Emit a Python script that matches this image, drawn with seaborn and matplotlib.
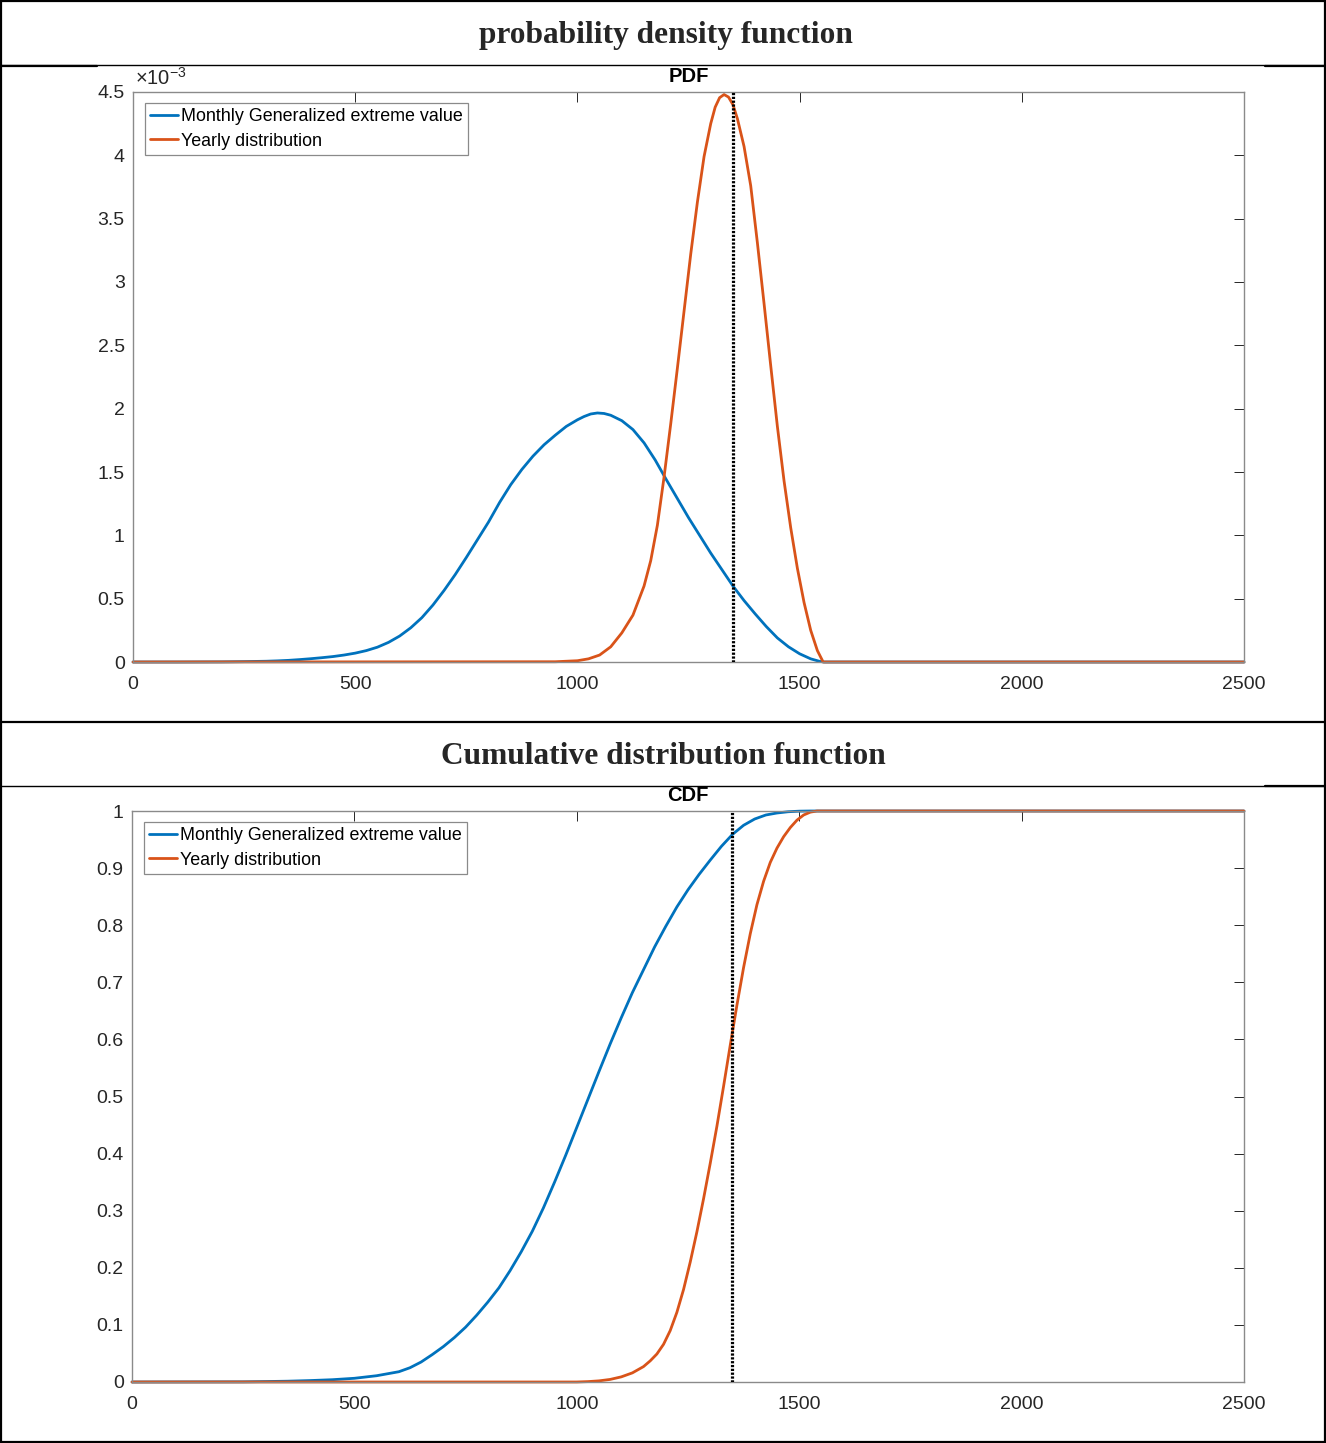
import numpy as np
import pandas as pd
import matplotlib
matplotlib.use("Agg")
import matplotlib.pyplot as plt
from matplotlib.lines import Line2D
import seaborn as sns

# ---------------- data ----------------
# PDF values are in units of 1e-3 (the axis multiplier shown on the chart)
pdf_blue_x = [0, 100, 200, 250, 300, 325, 350, 375, 400, 425, 450, 475, 500, 525, 550, 575,
              600, 625, 650, 675, 700, 725, 750, 775, 800, 825, 850, 875, 900, 925, 950,
              975, 1000, 1015, 1030, 1045, 1060, 1075, 1100, 1125, 1150, 1175, 1200, 1225,
              1250, 1275, 1300, 1325, 1350, 1375, 1400, 1425, 1450, 1475, 1500, 1525, 1545,
              1555, 2500]
pdf_blue = [0, 0, 0.001, 0.003, 0.006, 0.009, 0.013, 0.019, 0.026, 0.034, 0.043, 0.055,
            0.070, 0.090, 0.117, 0.155, 0.205, 0.270, 0.350, 0.450, 0.565, 0.690, 0.825,
            0.965, 1.105, 1.260, 1.400, 1.520, 1.625, 1.715, 1.790, 1.860, 1.912, 1.938,
            1.958, 1.966, 1.962, 1.948, 1.905, 1.835, 1.730, 1.595, 1.440, 1.290, 1.140,
            1.000, 0.860, 0.730, 0.600, 0.485, 0.380, 0.280, 0.190, 0.120, 0.065, 0.025,
            0.005, 0.0, 0.0]

pdf_orange_x = [0, 950, 1000, 1025, 1050, 1075, 1100, 1125, 1150, 1165, 1180, 1195, 1210,
                1225, 1240, 1255, 1270, 1285, 1300, 1310, 1320, 1330, 1340, 1350, 1360,
                1375, 1390, 1405, 1420, 1435, 1450, 1465, 1480, 1495, 1510, 1525, 1540,
                1553, 2500]
pdf_orange = [0, 0.002, 0.010, 0.025, 0.055, 0.120, 0.230, 0.370, 0.600, 0.800, 1.080,
              1.460, 1.880, 2.320, 2.770, 3.220, 3.630, 3.990, 4.250, 4.380, 4.455, 4.480,
              4.460, 4.400, 4.290, 4.070, 3.760, 3.310, 2.830, 2.340, 1.860, 1.430, 1.060,
              0.740, 0.470, 0.250, 0.090, 0.0, 0.0]

cdf_blue_x = [0, 250, 300, 350, 400, 450, 500, 550, 600, 625, 650, 675, 700, 725, 750, 775,
              800, 825, 850, 875, 900, 925, 950, 975, 1000, 1025, 1050, 1075, 1100, 1125,
              1150, 1175, 1200, 1225, 1250, 1275, 1300, 1325, 1350, 1375, 1400, 1425, 1450,
              1475, 1500, 1525, 2500]
cdf_blue = [0, 0.0003, 0.0008, 0.0014, 0.0025, 0.004, 0.0065, 0.011, 0.018, 0.025, 0.035,
            0.048, 0.062, 0.078, 0.096, 0.117, 0.140, 0.165, 0.195, 0.228, 0.264, 0.305,
            0.350, 0.397, 0.446, 0.495, 0.544, 0.592, 0.638, 0.682, 0.722, 0.762, 0.798,
            0.832, 0.862, 0.889, 0.914, 0.938, 0.959, 0.975, 0.986, 0.993, 0.9965, 0.9987,
            0.9997, 1.0, 1.0]

cdf_orange_x = [0, 1000, 1025, 1050, 1075, 1100, 1125, 1150, 1165, 1180, 1195, 1210, 1225,
                1240, 1255, 1270, 1285, 1300, 1315, 1330, 1345, 1360, 1375, 1390, 1405,
                1420, 1435, 1450, 1465, 1480, 1495, 1510, 1525, 1540, 2500]
cdf_orange = [0, 0.0, 0.0007, 0.002, 0.0045, 0.009, 0.016, 0.027, 0.037, 0.049, 0.066,
              0.090, 0.122, 0.162, 0.210, 0.263, 0.321, 0.383, 0.448, 0.518, 0.590, 0.660,
              0.726, 0.785, 0.836, 0.877, 0.910, 0.935, 0.955, 0.971, 0.984, 0.993, 0.998,
              1.0, 1.0]

threshold_x = 1350

series_labels = ["Monthly Generalized extreme value", "Yearly distribution"]
x_ticks = [0, 500, 1000, 1500, 2000, 2500]
pdf_y_ticks = [0, 0.5, 1, 1.5, 2, 2.5, 3, 3.5, 4, 4.5]
cdf_y_ticks = [0, 0.1, 0.2, 0.3, 0.4, 0.5, 0.6, 0.7, 0.8, 0.9, 1]

header_titles = ["probability density function", "Cumulative distribution function"]
panel_titles = ["PDF", "CDF"]

# ---------------- style ----------------
sns.set_theme(style="white")
plt.rcParams['font.family'] = ['Liberation Sans', 'DejaVu Sans']
plt.rcParams['mathtext.fontset'] = 'custom'
plt.rcParams['mathtext.rm'] = 'Liberation Sans'
plt.rcParams['mathtext.it'] = 'Liberation Sans:italic'

BLUE = '#0072BD'
ORANGE = '#D95319'
AXC = '#262626'
BOXC = '#8a8a8a'

W, H = 1326, 1443
fig = plt.figure(figsize=(W / 100, H / 100), dpi=100)


def px_rect(l, t, r, b):
    return [l / W, 1 - b / H, (r - l) / W, (b - t) / H]


ax1 = fig.add_axes(px_rect(133, 92, 1244, 662))
ax2 = fig.add_axes(px_rect(132, 811, 1244, 1382))


def style_axes(ax, yticks, ylim, title):
    ax.set_xlim(0, 2500)
    ax.set_ylim(*ylim)
    ax.set_xticks(x_ticks)
    ax.set_yticks(yticks)
    ax.set_xticklabels([f"{v:g}" for v in x_ticks])
    ax.set_yticklabels([f"{v:g}" for v in yticks])
    ax.tick_params(direction='in', length=7.5, width=0.7, color=AXC,
                   top=True, right=True, labelsize=14, labelcolor=AXC, pad=6)
    ax.tick_params(axis='x', pad=10)
    for s in ax.spines.values():
        s.set_color(BOXC)
        s.set_linewidth(1.0)
    ax.set_xlabel('')
    ax.set_ylabel('')
    ax.set_title(title, fontsize=14.5, fontweight='bold', color='black', pad=7)
    ax.grid(False)


def draw_panel(ax, bx, by, ox, oy):
    df_b = pd.DataFrame({'x': bx, 'y': by})
    df_o = pd.DataFrame({'x': ox, 'y': oy})
    sns.lineplot(data=df_b, x='x', y='y', ax=ax, color=BLUE, lw=2.0,
                 label=series_labels[0], sort=False, estimator=None)
    sns.lineplot(data=df_o, x='x', y='y', ax=ax, color=ORANGE, lw=2.0,
                 label=series_labels[1], sort=False, estimator=None)
    for ln in ax.get_lines():
        ln.set_clip_on(False)
        ln.set_solid_joinstyle('round')
    ax.axvline(threshold_x, color='black', lw=2.3, linestyle=(0, (0.7, 0.5)), zorder=5)
    leg = ax.legend(loc='upper left', bbox_to_anchor=(0.011, 0.981), fontsize=12.9,
                    frameon=True, fancybox=False, framealpha=1, edgecolor='#8a8a8a',
                    handlelength=1.55, handletextpad=0.15, borderpad=0.29,
                    labelspacing=0.42, borderaxespad=0)
    leg.get_frame().set_linewidth(0.9)
    for t in leg.get_texts():
        t.set_color('black')


draw_panel(ax1, pdf_blue_x, pdf_blue, pdf_orange_x, pdf_orange)
style_axes(ax1, pdf_y_ticks, (0, 4.5), panel_titles[0])
ax1.text(0.0015, 1.006, r'$\times10^{-3}$', transform=ax1.transAxes, ha='left', va='bottom',
         fontsize=14.5, color=AXC)

draw_panel(ax2, cdf_blue_x, cdf_blue, cdf_orange_x, cdf_orange)
style_axes(ax2, cdf_y_ticks, (0, 1), panel_titles[1])

# ---------------- table-like frame ----------------
def hline(y, x0=0, x1=W, lw=1.5):
    fig.add_artist(Line2D([x0 / W, x1 / W], [1 - y / H, 1 - y / H],
                          transform=fig.transFigure, color='black', lw=lw))


def vline(x, y0=0, y1=H, lw=1.5):
    fig.add_artist(Line2D([x / W, x / W], [1 - y0 / H, 1 - y1 / H],
                          transform=fig.transFigure, color='black', lw=lw))

hline(1.0, lw=1.6)
hline(1441.5, lw=1.6)
vline(1.0, lw=1.6)
vline(1325.0, lw=1.6)
hline(65, lw=1.0)
hline(65.5, 0, 97, lw=1.6)
hline(65.5, 1265, W, lw=1.6)
hline(721.5, lw=1.6)
hline(785.5, lw=1.0)
hline(786, 1265, W, lw=1.6)

fig.text(666 / W, 1 - 35 / H, header_titles[0], ha='center', va='center',
         fontsize=22.6, fontweight='bold', family=['Liberation Serif', 'DejaVu Serif'])
fig.text(663 / W, 1 - 756 / H, header_titles[1], ha='center', va='center',
         fontsize=22.6, fontweight='bold', family=['Liberation Serif', 'DejaVu Serif'])

fig.savefig('out.png', dpi=100, facecolor='white')
